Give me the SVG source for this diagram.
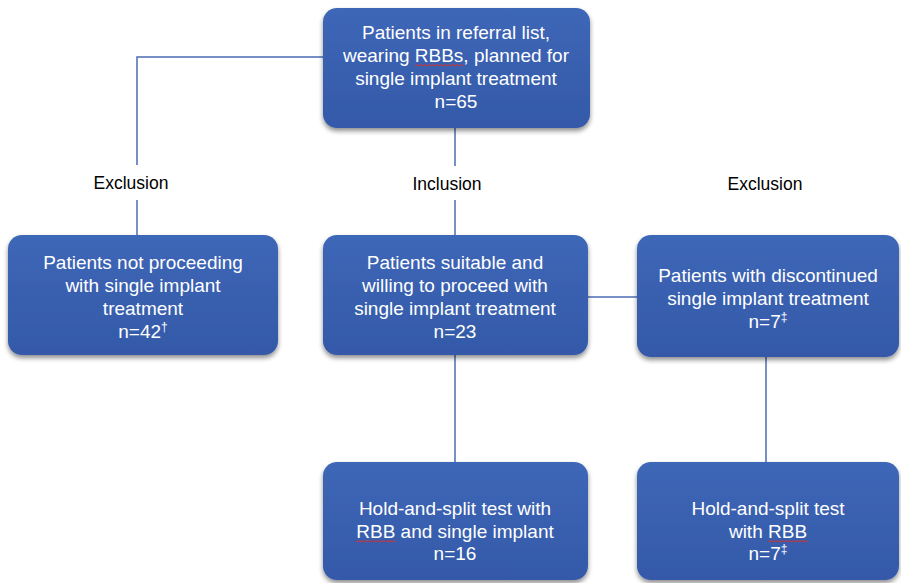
<svg xmlns="http://www.w3.org/2000/svg" width="901" height="583" viewBox="0 0 901 583">
<defs>
<linearGradient id="g" x1="0" y1="0" x2="0" y2="1">
<stop offset="0" stop-color="#3e67b7"/>
<stop offset="1" stop-color="#3459a8"/>
</linearGradient>
<filter id="sh" x="-10%" y="-10%" width="120%" height="130%">
<feGaussianBlur in="SourceAlpha" stdDeviation="2.5"/>
<feOffset dx="0" dy="3" result="b"/>
<feComponentTransfer><feFuncA type="linear" slope="0.45"/></feComponentTransfer>
<feMerge><feMergeNode/><feMergeNode in="SourceGraphic"/></feMerge>
</filter>
</defs>
<style>
.box{fill:url(#g);filter:url(#sh)}
.t{font-family:"Liberation Sans",Arial,sans-serif;font-size:19px;fill:#ffffff;text-anchor:middle}
.lbl{font-family:"Liberation Sans",Arial,sans-serif;font-size:17.5px;fill:#000000;text-anchor:middle}
.c{stroke:#4a6cb4;stroke-width:1.5;fill:none}
.sq{stroke:#d9302c;stroke-width:1;fill:none}
</style>
<rect width="901" height="583" fill="#ffffff"/>
<g id="connectors">
<path class="c" d="M323,57 H137 V165"/>
<path class="c" d="M137,200 V235"/>
<path class="c" d="M455,128 V166"/>
<path class="c" d="M455,200 V235"/>
<path class="c" d="M588,297 H637"/>
<path class="c" d="M455,355 V462"/>
<path class="c" d="M766,357 V462"/>
</g>
<g id="labels">
<text class="lbl" x="131" y="189">Exclusion</text>
<text class="lbl" x="447" y="190">Inclusion</text>
<text class="lbl" x="765" y="190">Exclusion</text>
</g>
<g id="n1">
<rect class="box" x="323" y="8" width="267" height="120" rx="14"/>
<text class="t" x="456" y="39">Patients in referral list,</text>
<text class="t" x="456" y="62">wearing RBBs, planned for</text>
<text class="t" x="456" y="85">single implant treatment</text>
<text class="t" x="456" y="108">n=65</text>
<path class="sq" d="M415,66 l2,-1.5 2,1.5 2,-1.5 2,1.5 2,-1.5 2,1.5 2,-1.5 2,1.5 2,-1.5 2,1.5 2,-1.5 2,1.5 2,-1.5 2,1.5 2,-1.5 2,1.5 2,-1.5 2,1.5 2,-1.5 2,1.5 2,-1.5 2,1.5 2,-1.5 2,1.5"/>
</g>
<g id="n2">
<rect class="box" x="8" y="235" width="270" height="120" rx="14"/>
<text class="t" x="143" y="269">Patients not proceeding</text>
<text class="t" x="143" y="292">with single implant</text>
<text class="t" x="143" y="315">treatment</text>
<text class="t" x="143" y="338">n=42<tspan dy="-7" font-size="12">†</tspan></text>
</g>
<g id="n3">
<rect class="box" x="323" y="235" width="265" height="120" rx="14"/>
<text class="t" x="455" y="269">Patients suitable and</text>
<text class="t" x="455" y="292">willing to proceed with</text>
<text class="t" x="455" y="315">single implant treatment</text>
<text class="t" x="455" y="338">n=23</text>
</g>
<g id="n4">
<rect class="box" x="637" y="235" width="262" height="122" rx="14"/>
<text class="t" x="768" y="282">Patients with discontinued</text>
<text class="t" x="768" y="305">single implant treatment</text>
<text class="t" x="768" y="328">n=7<tspan dy="-7" font-size="12">‡</tspan></text>
</g>
<g id="n5">
<rect class="box" x="323" y="462" width="265" height="118" rx="14"/>
<text class="t" x="455" y="515">Hold-and-split test with</text>
<text class="t" x="455" y="538">RBB and single implant</text>
<text class="t" x="455" y="560">n=16</text>
<path class="sq" d="M356,542 l2,-1.5 2,1.5 2,-1.5 2,1.5 2,-1.5 2,1.5 2,-1.5 2,1.5 2,-1.5 2,1.5 2,-1.5 2,1.5 2,-1.5 2,1.5 2,-1.5 2,1.5 2,-1.5 2,1.5 2,-1.5 2,1.5"/>
</g>
<g id="n6">
<rect class="box" x="637" y="462" width="262" height="118" rx="14"/>
<text class="t" x="768" y="515">Hold-and-split test</text>
<text class="t" x="768" y="538">with RBB</text>
<text class="t" x="768" y="560">n=7<tspan dy="-7" font-size="12">‡</tspan></text>
<path class="sq" d="M768,542 l2,-1.5 2,1.5 2,-1.5 2,1.5 2,-1.5 2,1.5 2,-1.5 2,1.5 2,-1.5 2,1.5 2,-1.5 2,1.5 2,-1.5 2,1.5 2,-1.5 2,1.5 2,-1.5 2,1.5 2,-1.5 2,1.5"/>
</g>
</svg>
